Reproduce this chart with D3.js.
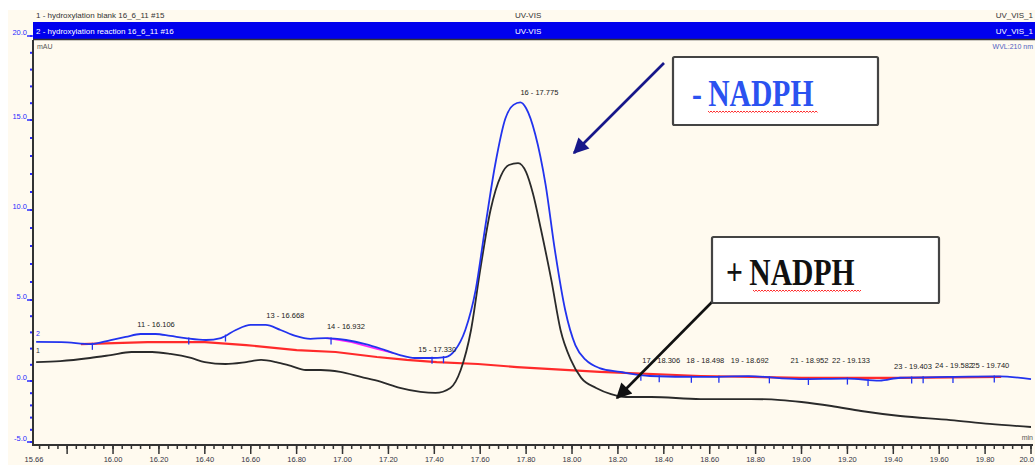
<!DOCTYPE html>
<html>
<head>
<meta charset="utf-8">
<script src="https://cdn.jsdelivr.net/npm/d3@7"></script>
<style>
  html, body { margin: 0; padding: 0; background: #ffffff; }
  svg { display: block; font-family: "Liberation Sans", Arial, sans-serif; }
</style>
</head>
<body>
<svg id="chart" width="1035" height="465"></svg>
<script>
// Retention time axis (min)
const timeDomain = [15.66, 20.0];
const xTickValues = [15.8, 16.0, 16.2, 16.4, 16.6, 16.8, 17.0, 17.2, 17.4, 17.6, 17.8,
                     18.0, 18.2, 18.4, 18.6, 18.8, 19.0, 19.2, 19.4, 19.6, 19.8, 20.0];
const xTickLabels = ["", "16.00", "16.20", "16.40", "16.60", "16.80", "17.00", "17.20", "17.40", "17.60", "17.80",
                     "18.00", "18.20", "18.40", "18.60", "18.80", "19.00", "19.20", "19.40", "19.60", "19.80", "20.0"];
const startLabel = "15.66";

// Absorbance axis (mAU)
const yTickValues = [-5, 0, 5, 10, 15, 20];
const yTickLabels = ["-5.0", "0.0", "5.0", "10.0", "15.0", "20.0"];

// Trace 2: incubation without NADPH (blue)
const blueTime = [15.665, 15.775, 15.905, 15.99, 16.055, 16.12, 16.185, 16.25, 16.315, 16.405, 16.47, 16.535,
                  16.60, 16.665, 16.73, 16.795, 16.86, 16.925, 17.015, 17.10, 17.185, 17.25, 17.315, 17.38,
                  17.45, 17.49, 17.535, 17.58, 17.62, 17.665, 17.71, 17.745, 17.775, 17.80, 17.84, 17.885,
                  17.925, 17.97, 18.015, 18.06, 18.12, 18.21, 18.34, 18.56, 18.77, 18.99, 19.20, 19.34,
                  19.43, 19.64, 19.86, 20.0];
const blueValue = [2.41, 2.40, 2.28, 2.53, 2.72, 2.90, 2.90, 2.78, 2.65, 2.53, 2.65, 3.15,
                   3.46, 3.46, 3.15, 2.78, 2.60, 2.65, 2.53, 2.28, 1.91, 1.60, 1.42, 1.42,
                   1.48, 1.90, 3.15, 5.55, 8.90, 12.5, 15.1, 15.9, 16.05, 15.7, 14.2, 11.4,
                   7.80, 4.40, 2.20, 1.30, 0.80, 0.56, 0.31, 0.25, 0.30, 0.12, 0.15, 0.02,
                   0.20, 0.25, 0.28, 0.12];

// Trace 1: incubation with NADPH (black)
const blackTime = [15.665, 15.77, 15.90, 15.99, 16.08, 16.17, 16.25, 16.34, 16.40, 16.49, 16.58, 16.645,
                   16.71, 16.775, 16.84, 16.905, 16.99, 17.08, 17.165, 17.25, 17.34, 17.405, 17.47, 17.515,
                   17.56, 17.60, 17.645, 17.69, 17.725, 17.765, 17.80, 17.83, 17.865, 17.91, 17.95, 17.995,
                   18.04, 18.105, 18.17, 18.235, 18.345, 18.56, 18.78, 18.91, 19.0, 19.13, 19.26, 19.43,
                   19.65, 19.82, 20.0];
const blackValue = [1.17, 1.23, 1.42, 1.60, 1.79, 1.79, 1.67, 1.42, 1.17, 1.05, 1.17, 1.30,
                    1.17, 0.93, 0.68, 0.68, 0.56, 0.25, -0.06, -0.57, -0.90, -0.98, -0.57, 0.68,
                    3.15, 6.67, 10.0, 11.9, 12.5, 12.6, 12.1, 10.9, 8.9, 6.1, 3.15, 1.30,
                    0.19, -0.57, -1.07, -1.31, -1.31, -1.48, -1.48, -1.56, -1.72, -2.05, -2.46, -2.87,
                    -3.20, -3.52, -3.77];

// Integration baseline (red)
const baseTime = [15.86, 16.15, 16.40, 16.58, 16.80, 16.97, 17.15, 17.28, 17.41, 17.59, 17.76,
                  18.12, 18.56, 19.0, 19.43, 19.87];
const baseValue = [2.28, 2.40, 2.40, 2.22, 1.91, 1.79, 1.48, 1.30, 1.17, 1.05, 0.86,
                   0.56, 0.31, 0.19, 0.19, 0.25];

// Baseline of peak 14 (magenta)
const p14Time = [16.93, 17.04, 17.15, 17.22];
const p14Value = [2.65, 2.40, 1.98, 1.73];

// Peak delimiters on the blue trace
const delimiterTime = [15.91, 16.33, 16.49, 16.95, 17.39, 17.44, 18.30, 18.38, 18.52, 18.64, 18.86,
                       19.03, 19.20, 19.29, 19.48, 19.53, 19.66, 19.84];

// Peak annotations: label text, retention time, apex height
const peakLabel = ["11 - 16.106", "13 - 16.668", "14 - 16.932", "15 - 17.330", "16 - 17.775",
                   "17 - 18.306", "18 - 18.498", "19 - 18.692", "21 - 18.952", "22 - 19.133",
                   "23 - 19.403", "24 - 19.582", "25 - 19.740"];
const peakTime = [16.106, 16.668, 16.932, 17.330, 17.775, 18.306, 18.498, 18.692, 18.952, 19.133,
                  19.403, 19.582, 19.740];
const peakHeight = [2.90, 3.46, 2.78, 1.36, 16.05, 0.68, 0.68, 0.68, 0.68, 0.68, 0.31, 0.40, 0.40];

const svg = d3.select("#chart");

const x = d3.scaleLinear().domain(timeDomain).range([35, 1031]);
// Piecewise vertical scale of the exported plot
const y = d3.scaleLinear().domain([-5, 0, 5, 15, 20]).range([442, 381, 300, 120, 36]);

// Frame background
svg.append("rect").attr("x", 8).attr("y", 10).attr("width", 1027).attr("height", 455)
  .attr("fill", "#fffaef");

// Header: trace titles
svg.append("text").attr("x", 36).attr("y", 18).attr("font-size", 8).attr("fill", "#333")
  .text("1 - hydroxylation blank 16_6_11 #15");
svg.append("text").attr("x", 515).attr("y", 18).attr("font-size", 8).attr("fill", "#333")
  .text("UV-VIS");
svg.append("text").attr("x", 1033).attr("y", 18).attr("font-size", 8).attr("fill", "#333")
  .attr("text-anchor", "end").text("UV_VIS_1");
svg.append("rect").attr("x", 33).attr("y", 22).attr("width", 1002).attr("height", 17)
  .attr("fill", "#0000ee");
svg.append("line").attr("x1", 33).attr("x2", 1035).attr("y1", 39.5).attr("y2", 39.5)
  .attr("stroke", "#333").attr("stroke-width", 1.5);
svg.append("text").attr("x", 36).attr("y", 34).attr("font-size", 8).attr("fill", "#fff")
  .text("2 - hydroxylation reaction 16_6_11 #16");
svg.append("text").attr("x", 515).attr("y", 34).attr("font-size", 8).attr("fill", "#fff")
  .text("UV-VIS");
svg.append("text").attr("x", 1033).attr("y", 34).attr("font-size", 8).attr("fill", "#fff")
  .attr("text-anchor", "end").text("UV_VIS_1");
svg.append("text").attr("x", 37).attr("y", 49).attr("font-size", 7).attr("fill", "#555").text("mAU");
svg.append("text").attr("x", 1033).attr("y", 49).attr("font-size", 7).attr("fill", "#5060c0")
  .attr("text-anchor", "end").text("WVL:210 nm");

// Y axis: minor dots every 1 mAU, labelled ticks every 5
const yMinor = d3.range(-5, 21, 1);
svg.append("g").selectAll("rect").data(yMinor).join("rect")
  .attr("x", 30).attr("y", d => y(d) - 1).attr("width", 2).attr("height", 2).attr("fill", "#2a2aff");
svg.append("g").selectAll("line").data(yTickValues).join("line")
  .attr("x1", 27).attr("x2", 33).attr("y1", d => y(d)).attr("y2", d => y(d))
  .attr("stroke", "#2a2aff").attr("stroke-width", 1.5);
svg.append("g").selectAll("text").data(yTickValues).join("text")
  .attr("x", 27).attr("y", d => y(d) - 1).attr("text-anchor", "end")
  .attr("font-size", 7.5).attr("fill", "#2a2aff")
  .text((d, i) => yTickLabels[i]);
svg.append("line").attr("x1", 33).attr("x2", 33).attr("y1", 40).attr("y2", 446)
  .attr("stroke", "#333").attr("stroke-width", 2);

// X axis
const xMinor = d3.range(15.68, 20.001, 0.04);
svg.append("g").selectAll("line").data(xMinor).join("line")
  .attr("x1", d => x(d)).attr("x2", d => x(d)).attr("y1", 445).attr("y2", 449)
  .attr("stroke", "#333").attr("stroke-width", 1.5);
svg.append("g").selectAll("line").data(xTickValues).join("line")
  .attr("x1", d => x(d)).attr("x2", d => x(d)).attr("y1", 445).attr("y2", 454)
  .attr("stroke", "#333").attr("stroke-width", 1.5);
const lastTick = xTickValues.length - 1;
svg.append("g").selectAll("text").data(xTickValues).join("text")
  .attr("x", (d, i) => i === lastTick ? 1034 : x(d)).attr("y", 462)
  .attr("text-anchor", (d, i) => i === lastTick ? "end" : "middle")
  .attr("font-size", 7.5).attr("fill", "#334")
  .text((d, i) => xTickLabels[i]);
svg.append("text").attr("x", x(timeDomain[0]) - 1).attr("y", 462).attr("text-anchor", "middle")
  .attr("font-size", 7.5).attr("fill", "#334").text(startLabel);
svg.append("line").attr("x1", 32).attr("x2", 1033).attr("y1", 445).attr("y2", 445)
  .attr("stroke", "#333").attr("stroke-width", 2);
svg.append("text").attr("x", 1033).attr("y", 440).attr("text-anchor", "end")
  .attr("font-size", 7).attr("fill", "#555").text("min");

// Trace numbers at the left edge
svg.append("text").attr("x", 36).attr("y", 336).attr("font-size", 7).attr("fill", "#2a2aff").text("2");
svg.append("text").attr("x", 36).attr("y", 353).attr("font-size", 7).attr("fill", "#333").text("1");

const line = d3.line().x(d => x(d[0])).y(d => y(d[1]));
const smooth = d3.line().x(d => x(d[0])).y(d => y(d[1])).curve(d3.curveMonotoneX);

// Baselines
svg.append("path").datum(d3.zip(baseTime, baseValue))
  .attr("d", line).attr("fill", "none").attr("stroke", "#ff2a2a").attr("stroke-width", 2.2);
svg.append("path").datum(d3.zip(p14Time, p14Value))
  .attr("d", line).attr("fill", "none").attr("stroke", "#ff20ff").attr("stroke-width", 1.6);

// Traces
svg.append("path").datum(d3.zip(blackTime, blackValue))
  .attr("d", smooth).attr("fill", "none").attr("stroke", "#2a2a2a").attr("stroke-width", 1.8);
const blueData = d3.zip(blueTime, blueValue);
svg.append("path").datum(blueData)
  .attr("d", smooth).attr("fill", "none").attr("stroke", "#2233ee").attr("stroke-width", 1.8);

// Peak delimiters
const blueAt = t => {
  const i = d3.bisector(d => d[0]).left(blueData, t);
  const a = blueData[Math.max(0, i - 1)], b = blueData[Math.min(blueData.length - 1, i)];
  const f = b[0] === a[0] ? 0 : (t - a[0]) / (b[0] - a[0]);
  return a[1] + f * (b[1] - a[1]);
};
svg.append("g").selectAll("line").data(delimiterTime).join("line")
  .attr("x1", d => x(d)).attr("x2", d => x(d))
  .attr("y1", d => y(blueAt(d)) - 1).attr("y2", d => y(blueAt(d)) + 6)
  .attr("stroke", "#2233ee").attr("stroke-width", 1.3);

// Peak labels
svg.append("g").selectAll("text").data(peakTime).join("text")
  .attr("x", d => x(d)).attr("y", (d, i) => y(peakHeight[i]) - 7)
  .attr("font-size", 7.5).attr("fill", "#222")
  .text((d, i) => peakLabel[i]);

// Callouts
const defs = svg.append("defs");
function arrowMarker(id, color) {
  defs.append("marker").attr("id", id).attr("viewBox", "0 0 10 10")
    .attr("refX", 9).attr("refY", 5).attr("markerWidth", 7).attr("markerHeight", 6)
    .attr("markerUnits", "strokeWidth").attr("orient", "auto")
    .append("path").attr("d", "M0,0 L10,5 L0,10 Z").attr("fill", color);
}
arrowMarker("arrowNavy", "#17178a");
arrowMarker("arrowBlack", "#111");

function wavy(x0, x1, yy) {
  let d = `M${x0},${yy}`;
  for (let xx = x0 + 1.5, k = 0; xx <= x1; xx += 1.5, k++) {
    d += ` L${xx},${yy + (k % 2 === 0 ? 1.5 : 0)}`;
  }
  return d;
}

function callout(cfg) {
  const g = svg.append("g");
  g.append("line").attr("x1", cfg.from[0]).attr("y1", cfg.from[1])
    .attr("x2", cfg.to[0]).attr("y2", cfg.to[1])
    .attr("stroke", cfg.arrowColor).attr("stroke-width", 2.6)
    .attr("marker-end", `url(#${cfg.marker})`);
  g.append("rect").attr("x", cfg.box[0]).attr("y", cfg.box[1])
    .attr("width", cfg.box[2]).attr("height", cfg.box[3])
    .attr("fill", "#ffffff").attr("stroke", "#444").attr("stroke-width", 2.2).attr("rx", 1.5);
  const t = g.append("text")
    .attr("transform", `translate(${cfg.textPos[0]},${cfg.textPos[1]}) scale(0.8,1)`)
    .style("font-family", "'Liberation Serif', 'Times New Roman', serif")
    .attr("font-weight", "bold").attr("font-size", 37).attr("fill", cfg.textColor);
  t.append("tspan").text(cfg.sign);
  t.append("tspan").attr("dx", 8).text("NADPH");
  g.append("path").attr("d", wavy(cfg.wave[0], cfg.wave[1], cfg.wave[2]))
    .attr("fill", "none").attr("stroke", "#ff3030").attr("stroke-width", 1);
}

callout({
  box: [673, 57, 205, 68], textPos: [692, 106], textColor: "#2b52f0", sign: "-",
  wave: [708, 818, 111], from: [664, 63], to: [574, 153], arrowColor: "#17178a", marker: "arrowNavy"
});
callout({
  box: [712, 237, 227, 66], textPos: [726, 285], textColor: "#111", sign: "+",
  wave: [753, 862, 290], from: [712, 302], to: [617, 398], arrowColor: "#111", marker: "arrowBlack"
});
</script>
</body>
</html>
